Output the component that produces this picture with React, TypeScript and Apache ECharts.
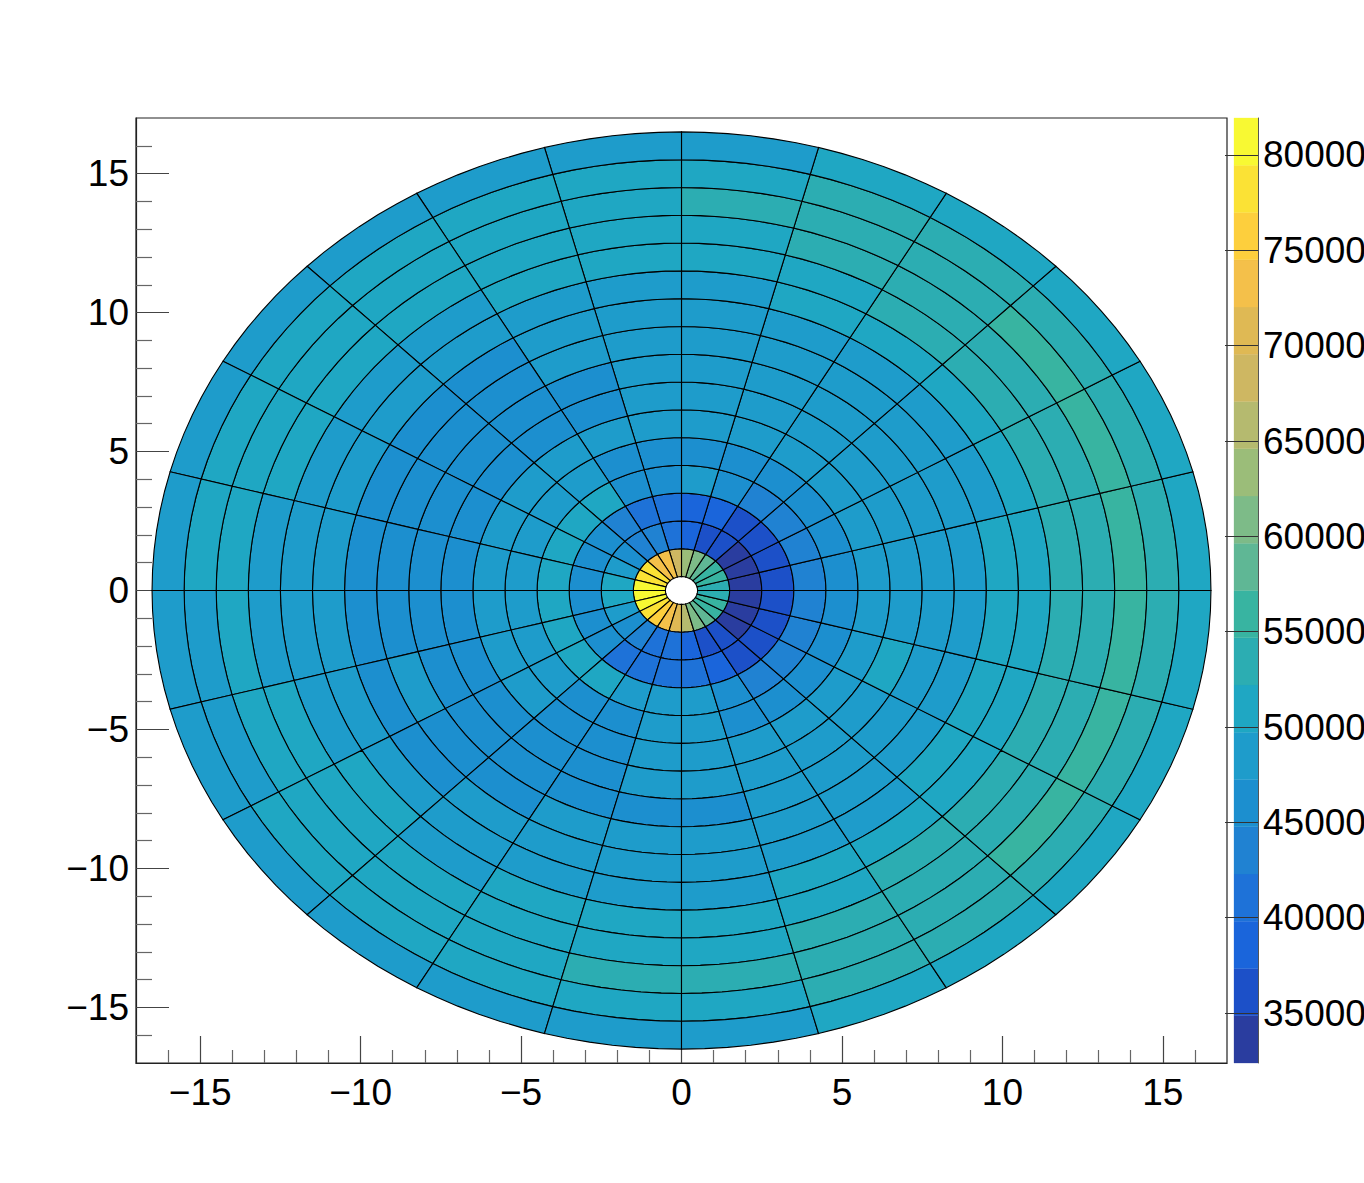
import React, { useEffect, useRef } from "react";
import * as echarts from "echarts";

// Colour scale: 20 contour bands between zMin and zMax
const zMin = 32380;
const zMax = 81940;
const bandColors = [
  "#2a3d9f", "#1c50c8", "#1a65db", "#1e72d8", "#2082d2",
  "#1c8fcf", "#1e9ccb", "#1fa7c3", "#2cadb2", "#38b4a1",
  "#5fb795", "#7dbb88", "#9bbd79", "#b5ba6f", "#ceb762",
  "#dfb954", "#f4c04a", "#fdcf3d", "#fbe235", "#f8f933",
];

// Each list: one azimuthal bin (15 degrees wide, counter-clockwise from +x),
// values from the innermost ring (r 0.5-1.5) to the outermost (r 15.5-16.5)
const phi000 = [53400, 33600, 36100, 43500, 46000, 48500, 48500, 48500, 48500, 51000, 51000, 53400, 53400, 55900, 53400, 51000];
const phi015 = [55900, 33600, 36100, 43500, 46000, 48500, 48500, 48500, 48500, 48500, 51000, 53400, 53400, 55900, 53400, 51000];
const phi030 = [55900, 33600, 36100, 43500, 46000, 48500, 48500, 48500, 48500, 48500, 51000, 53400, 53400, 55900, 53400, 51000];
const phi045 = [58400, 36100, 36100, 43500, 46000, 48500, 48500, 48500, 48500, 48500, 51000, 53400, 53400, 53400, 53400, 51000];
const phi060 = [60900, 36100, 38600, 46000, 46000, 48500, 48500, 48500, 48500, 48500, 51000, 51000, 53400, 53400, 53400, 51000];
const phi075 = [63400, 38600, 38600, 48500, 46000, 48500, 48500, 48500, 48500, 48500, 48500, 51000, 51000, 53400, 51000, 48500];
const phi090 = [68300, 41100, 41100, 46000, 46000, 48500, 48500, 48500, 48500, 48500, 48500, 51000, 51000, 51000, 51000, 48500];
const phi105 = [73300, 43500, 41100, 46000, 46000, 48500, 46000, 46000, 48500, 48500, 48500, 51000, 51000, 51000, 51000, 48500];
const phi120 = [73300, 43500, 43500, 51000, 48500, 48500, 46000, 46000, 46000, 46000, 48500, 48500, 51000, 51000, 51000, 48500];
const phi135 = [78200, 46000, 46000, 51000, 48500, 48500, 46000, 46000, 46000, 46000, 48500, 48500, 51000, 51000, 51000, 48500];
const phi150 = [78200, 48500, 46000, 51000, 48500, 48500, 46000, 46000, 46000, 46000, 48500, 48500, 51000, 51000, 51000, 48500];
const phi165 = [80700, 51000, 46000, 51000, 48500, 48500, 46000, 46000, 46000, 46000, 48500, 48500, 48500, 51000, 51000, 48500];
const phi180 = [80700, 51000, 46000, 51000, 48500, 48500, 46000, 46000, 46000, 46000, 48500, 48500, 48500, 51000, 48500, 48500];
const phi195 = [80700, 48500, 46000, 51000, 48500, 48500, 46000, 46000, 48500, 46000, 48500, 48500, 51000, 51000, 48500, 48500];
const phi210 = [78200, 46000, 46000, 51000, 48500, 48500, 46000, 46000, 46000, 46000, 48500, 51000, 51000, 51000, 51000, 48500];
const phi225 = [75700, 43500, 41100, 51000, 46000, 46000, 46000, 46000, 46000, 48500, 48500, 48500, 51000, 51000, 51000, 48500];
const phi240 = [73300, 41100, 41100, 48500, 46000, 46000, 46000, 46000, 48500, 48500, 48500, 51000, 51000, 51000, 51000, 48500];
const phi255 = [70800, 41100, 41100, 48500, 48500, 48500, 48500, 46000, 48500, 48500, 48500, 51000, 51000, 53400, 51000, 48500];
const phi270 = [65800, 38600, 41100, 48500, 48500, 48500, 48500, 46000, 48500, 48500, 48500, 51000, 51000, 53400, 51000, 48500];
const phi285 = [60900, 36100, 38600, 46000, 46000, 48500, 48500, 48500, 48500, 48500, 51000, 51000, 53400, 53400, 53400, 51000];
const phi300 = [58400, 36100, 36100, 43500, 46000, 48500, 48500, 48500, 48500, 48500, 51000, 53400, 53400, 53400, 53400, 51000];
const phi315 = [55900, 33600, 36100, 43500, 46000, 48500, 48500, 48500, 48500, 51000, 51000, 53400, 53400, 55900, 53400, 51000];
const phi330 = [55900, 33600, 36100, 43500, 46000, 48500, 51000, 48500, 48500, 51000, 51000, 53400, 53400, 55900, 53400, 51000];
const phi345 = [53400, 33600, 36100, 43500, 46000, 48500, 48500, 48500, 48500, 51000, 51000, 53400, 53400, 55900, 53400, 51000];

const sectors = [
  phi000, phi015, phi030, phi045, phi060, phi075, phi090, phi105,
  phi120, phi135, phi150, phi165, phi180, phi195, phi210, phi225,
  phi240, phi255, phi270, phi285, phi300, phi315, phi330, phi345,
];

const axisMin = -17;
const axisMax = 17;
const majorTicks = [-15, -10, -5, 0, 5, 10, 15];
const minorTicks = [-16, -14, -13, -12, -11, -9, -8, -7, -6, -4, -3, -2, -1, 1, 2, 3, 4, 6, 7, 8, 9, 11, 12, 13, 14, 16];
const paletteTicks = [35000, 40000, 45000, 50000, 55000, 60000, 65000, 70000, 75000, 80000];

const innerRadius = 0.5;
const ringWidth = 1;
const sectorDeg = 15;
const FONT = "'Liberation Sans', Arial, Helvetica, sans-serif";
const FONT_SIZE = 37;

const cellData = sectors.flatMap((list, s) => list.map((v, r) => [r, s, v]));
const bandStep = (zMax - zMin) / bandColors.length;
const bandData = bandColors.map((_, i) => [i]);

function colorOf(v: number) {
  const i = Math.floor((v - zMin) / bandStep);
  return bandColors[Math.max(0, Math.min(bandColors.length - 1, i))];
}

const fmt = (v: number) => String(v).replace("-", "\u2212");

function renderCell(_p: any, api: any) {
  const r = api.value(0);
  const s = api.value(1);
  const v = api.value(2);
  const r0 = innerRadius + r * ringWidth;
  const r1 = r0 + ringWidth;
  const a0 = s * sectorDeg;
  const steps = 6;
  const pts: number[][] = [];
  for (let k = 0; k <= steps; k++) {
    const a = ((a0 + (k * sectorDeg) / steps) * Math.PI) / 180;
    pts.push(api.coord([r1 * Math.cos(a), r1 * Math.sin(a)]));
  }
  for (let k = steps; k >= 0; k--) {
    const a = ((a0 + (k * sectorDeg) / steps) * Math.PI) / 180;
    pts.push(api.coord([r0 * Math.cos(a), r0 * Math.sin(a)]));
  }
  return {
    type: "polygon",
    shape: { points: pts },
    style: { fill: colorOf(v), stroke: "#000", lineWidth: 1.1 },
  };
}

function renderBand(_p: any, api: any) {
  const i = api.value(0);
  const a = api.coord([0, zMin + i * bandStep]);
  const b = api.coord([1, zMin + (i + 1) * bandStep]);
  return {
    type: "rect",
    shape: { x: a[0], y: b[1], width: b[0] - a[0], height: a[1] - b[1] },
    style: { fill: bandColors[i], stroke: bandColors[i], lineWidth: 0.3 },
  };
}

const hiddenLine = { show: false };

export default function App() {
  const ref = useRef<HTMLDivElement>(null);
  useEffect(() => {
    document.body.style.margin = "0";
    const chart = echarts.init(ref.current!, null, { renderer: "svg" });
    chart.setOption({
      animation: false,
      backgroundColor: "#fff",
      grid: [
        { left: 136, top: 118, width: 1091, height: 945, show: true, borderColor: "#222", borderWidth: 1.2, backgroundColor: "#fff", outerBoundsMode: "none" },
        { left: 1234, top: 118, width: 24, height: 945, show: false, outerBoundsMode: "none" },
      ],
      xAxis: [
        {
          type: "value", gridIndex: 0, min: axisMin, max: axisMax, position: "bottom",
          splitLine: { show: false }, axisLine: { show: true, onZero: false, lineStyle: { color: "#222", width: 1.2 } },
          axisTick: { show: true, inside: true, length: 27, customValues: majorTicks, lineStyle: { color: "#444", width: 1.2 } },
          axisLabel: { show: true, customValues: majorTicks, formatter: fmt, margin: 11, fontFamily: FONT, fontSize: FONT_SIZE, color: "#000", hideOverlap: false },
        },
        {
          type: "value", gridIndex: 0, min: axisMin, max: axisMax, position: "bottom",
          splitLine: { show: false }, axisLine: { show: false, onZero: false },
          axisTick: { show: true, inside: true, length: 13, customValues: minorTicks, lineStyle: { color: "#666", width: 1.2 } },
          axisLabel: { show: false },
        },
        {
          type: "value", gridIndex: 1, min: 0, max: 1, show: false,
          splitLine: hiddenLine,
        },
      ],
      yAxis: [
        {
          type: "value", gridIndex: 0, min: axisMin, max: axisMax, position: "left",
          splitLine: { show: false }, axisLine: { show: true, onZero: false, lineStyle: { color: "#222", width: 1.2 } },
          axisTick: { show: true, inside: true, length: 33, customValues: majorTicks, lineStyle: { color: "#444", width: 1.2 } },
          axisLabel: { show: true, customValues: majorTicks, formatter: fmt, margin: 7, fontFamily: FONT, fontSize: FONT_SIZE, color: "#000", hideOverlap: false },
        },
        {
          type: "value", gridIndex: 0, min: axisMin, max: axisMax, position: "left",
          splitLine: { show: false }, axisLine: { show: false, onZero: false },
          axisTick: { show: true, inside: true, length: 16, customValues: minorTicks, lineStyle: { color: "#666", width: 1.2 } },
          axisLabel: { show: false },
        },
        {
          type: "value", gridIndex: 1, min: zMin, max: zMax, position: "right", z: 10,
          splitLine: { show: false },
          axisLine: { show: true, onZero: false, lineStyle: { color: "#555", width: 1 } },
          axisTick: { show: true, inside: true, length: 33, customValues: paletteTicks, lineStyle: { color: "#333", width: 1.2 } },
          axisLabel: { show: true, customValues: paletteTicks, margin: 5, fontFamily: FONT, fontSize: FONT_SIZE, color: "#000", hideOverlap: false, formatter: fmt },
        },
      ],
      series: [
        {
          type: "custom", xAxisIndex: 0, yAxisIndex: 0, coordinateSystem: "cartesian2d",
          data: cellData, renderItem: renderCell, clip: false, silent: true,
          encode: { x: 0, y: 1 },
        },
        {
          type: "custom", xAxisIndex: 2, yAxisIndex: 2, coordinateSystem: "cartesian2d",
          data: bandData, renderItem: renderBand, clip: false, silent: true,
        },
      ],
    });
    return () => chart.dispose();
  }, []);
  return <div ref={ref} style={{ position: "absolute", left: 0, top: 0, width: 1364, height: 1183 }} />;
}
